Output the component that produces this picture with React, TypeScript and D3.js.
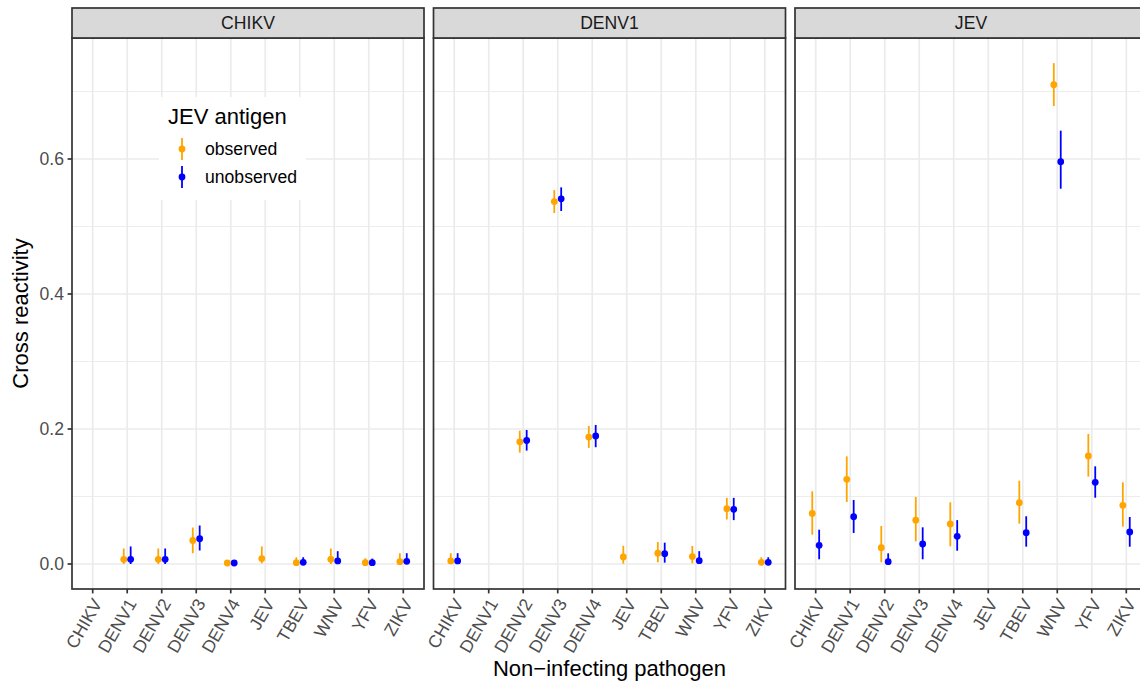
import React from "react";
import * as d3 from "d3";

const pathogens = ["CHIKV", "DENV1", "DENV2", "DENV3", "DENV4", "JEV", "TBEV", "WNV", "YFV", "ZIKV"];
const panels = ["CHIKV", "DENV1", "JEV"];
const seriesNames = ["observed", "unobserved"];
const seriesColors = ["orange", "blue"];
const yTicks = [0, 0.2, 0.4, 0.6];
const yMinorTicks = [0.1, 0.3, 0.5, 0.7];

type V = number | null;

// CHIKV panel
const chikvObsMean: V[] = [null, 0.007, 0.007, 0.035, 0.0015, 0.008, 0.002, 0.007, 0.002, 0.0035];
const chikvObsLo: V[] = [null, 0.0, 0.0, 0.016, 0.0, 0.001, 0.0, 0.0, 0.0, 0.0];
const chikvObsHi: V[] = [null, 0.023, 0.023, 0.054, 0.004, 0.026, 0.01, 0.023, 0.0085, 0.016];
const chikvUnobsMean: V[] = [null, 0.007, 0.007, 0.0375, 0.0015, null, 0.0025, 0.0045, 0.002, 0.004];
const chikvUnobsLo: V[] = [null, 0.0, 0.0, 0.02, 0.0, null, 0.0, 0.0, 0.0, 0.0];
const chikvUnobsHi: V[] = [null, 0.026, 0.023, 0.057, 0.004, null, 0.01, 0.019, 0.008, 0.016];

// DENV1 panel
const denv1ObsMean: V[] = [0.0045, null, 0.181, 0.537, 0.188, 0.0104, 0.016, 0.011, 0.082, 0.0025];
const denv1ObsLo: V[] = [0.0, null, 0.165, 0.52, 0.172, 0.0005, 0.0025, 0.001, 0.066, 0.0];
const denv1ObsHi: V[] = [0.016, null, 0.1975, 0.554, 0.2045, 0.027, 0.0326, 0.0267, 0.098, 0.01];
const denv1UnobsMean: V[] = [0.0045, null, 0.183, 0.541, 0.1896, null, 0.0153, 0.005, 0.081, 0.0025];
const denv1UnobsLo: V[] = [0.0, null, 0.168, 0.523, 0.173, null, 0.002, 0.0, 0.065, 0.0];
const denv1UnobsHi: V[] = [0.016, null, 0.1985, 0.558, 0.206, null, 0.0316, 0.019, 0.098, 0.01];

// JEV panel
const jevObsMean: V[] = [0.075, 0.1255, 0.0242, 0.065, 0.0593, null, 0.0908, 0.71, 0.16, 0.087];
const jevObsLo: V[] = [0.0434, 0.0919, 0.0025, 0.0336, 0.0262, null, 0.0597, 0.6785, 0.1294, 0.0553];
const jevObsHi: V[] = [0.1077, 0.1595, 0.0563, 0.0993, 0.0914, null, 0.1234, 0.742, 0.1926, 0.121];
const jevUnobsMean: V[] = [0.0277, 0.07, 0.0034, 0.0296, 0.041, null, 0.0464, 0.596, 0.121, 0.0474];
const jevUnobsLo: V[] = [0.007, 0.046, 0.0, 0.007, 0.0197, null, 0.0257, 0.556, 0.0982, 0.0256];
const jevUnobsHi: V[] = [0.0508, 0.0948, 0.0158, 0.0543, 0.065, null, 0.0707, 0.642, 0.1447, 0.0696];

const panelData = [
  [
    { mean: chikvObsMean, lo: chikvObsLo, hi: chikvObsHi },
    { mean: chikvUnobsMean, lo: chikvUnobsLo, hi: chikvUnobsHi },
  ],
  [
    { mean: denv1ObsMean, lo: denv1ObsLo, hi: denv1ObsHi },
    { mean: denv1UnobsMean, lo: denv1UnobsLo, hi: denv1UnobsHi },
  ],
  [
    { mean: jevObsMean, lo: jevObsLo, hi: jevObsHi },
    { mean: jevUnobsMean, lo: jevUnobsLo, hi: jevUnobsHi },
  ],
];

const W = 1140;
const H = 684;
const FONT = "'Liberation Sans', Arial, Helvetica, sans-serif";
const panelLeft = [72, 433.5, 795];
const panelW = 352;
const stripTop = 8;
const panelTop = 38;
const panelBottom = 589;
const dodge = 3.45;

export default function App() {
  // y scale: 0 at 564px, 0.6 at 159px
  const yS = d3.scaleLinear().domain([0, 0.6]).range([564, 159]);

  return (
    <svg
      width={W}
      height={H}
      style={{ position: "absolute", left: 0, top: 0, background: "white" }}
      fontFamily={FONT}
    >
      <rect x={0} y={0} width={W} height={H} fill="white" />
      {panels.map((p, pi) => {
        const x0 = panelLeft[pi];
        const x = d3.scalePoint<string>().domain(pathogens).range([x0, x0 + panelW]).padding(0.6);
        return (
          <g key={p}>
            <rect x={x0} y={panelTop} width={panelW} height={panelBottom - panelTop} fill="white" />
            {yMinorTicks.map((t) => (
              <line key={"mn" + t} x1={x0} x2={x0 + panelW} y1={yS(t)} y2={yS(t)} stroke="#EBEBEB" strokeWidth={0.9} />
            ))}
            {yTicks.map((t) => (
              <line key={"mj" + t} x1={x0} x2={x0 + panelW} y1={yS(t)} y2={yS(t)} stroke="#EBEBEB" strokeWidth={1.7} />
            ))}
            {pathogens.map((c) => (
              <line key={"gx" + c} x1={x(c)} x2={x(c)} y1={panelTop} y2={panelBottom} stroke="#EBEBEB" strokeWidth={1.7} />
            ))}
            {panelData[pi].map((s, si) => {
              const off = si === 0 ? -dodge : dodge;
              return (
                <g key={si}>
                  {pathogens.map((c, ci) => {
                    const m = s.mean[ci];
                    if (m === null) return null;
                    const cx = (x(c) as number) + off;
                    return (
                      <g key={c}>
                        <line
                          x1={cx}
                          x2={cx}
                          y1={yS(s.lo[ci] as number)}
                          y2={yS(s.hi[ci] as number)}
                          stroke={seriesColors[si]}
                          strokeWidth={1.8}
                        />
                        <circle cx={cx} cy={yS(m)} r={3.4} fill={seriesColors[si]} />
                      </g>
                    );
                  })}
                </g>
              );
            })}
            <rect
              x={x0}
              y={panelTop}
              width={panelW}
              height={panelBottom - panelTop}
              fill="none"
              stroke="#333333"
              strokeWidth={1.7}
            />
            <rect
              x={x0}
              y={stripTop}
              width={panelW}
              height={panelTop - stripTop}
              fill="#D9D9D9"
              stroke="#333333"
              strokeWidth={1.7}
            />
            <text
              x={x0 + panelW / 2}
              y={(stripTop + panelTop) / 2}
              dy="0.36em"
              textAnchor="middle"
              fontSize={17.6}
              fill="#1A1A1A"
            >
              {p}
            </text>
            {pathogens.map((c) => (
              <g key={"xt" + c}>
                <line x1={x(c)} x2={x(c)} y1={panelBottom} y2={panelBottom + 4.4} stroke="#333333" strokeWidth={1.7} />
                <text
                  transform={`translate(${(x(c) as number) - 1},${panelBottom + 8}) rotate(-60)`}
                  textAnchor="end"
                  dy="0.72em"
                  fontSize={17.6}
                  fill="#4D4D4D"
                >
                  {c}
                </text>
              </g>
            ))}
          </g>
        );
      })}
      {/* y axis */}
      {yTicks.map((t) => (
        <g key={"yt" + t}>
          <line x1={panelLeft[0] - 4.4} x2={panelLeft[0]} y1={yS(t)} y2={yS(t)} stroke="#333333" strokeWidth={1.7} />
          <text x={panelLeft[0] - 8} y={yS(t)} dy="0.36em" textAnchor="end" fontSize={17.6} fill="#4D4D4D">
            {d3.format(".1f")(t)}
          </text>
        </g>
      ))}
      <text
        transform={`translate(28,${(panelTop + panelBottom) / 2}) rotate(-90)`}
        textAnchor="middle"
        fontSize={22}
        fill="black"
      >
        Cross reactivity
      </text>
      <text x={(panelLeft[0] + 1147) / 2} y={676} textAnchor="middle" fontSize={22} fill="black">
        Non−infecting pathogen
      </text>
      {/* legend */}
      <g>
        <rect x={159} y={97} width={147} height={103} fill="white" />
        <text x={168} y={124} fontSize={22} fill="black">
          JEV antigen
        </text>
        {seriesNames.map((n, i) => {
          const ky = 149 + i * 28;
          return (
            <g key={n}>
              <line x1={182} x2={182} y1={ky - 11} y2={ky + 11} stroke={seriesColors[i]} strokeWidth={1.8} />
              <circle cx={182} cy={ky} r={3.4} fill={seriesColors[i]} />
              <text x={205} y={ky} dy="0.36em" fontSize={17.6} fill="black">
                {n}
              </text>
            </g>
          );
        })}
      </g>
    </svg>
  );
}
